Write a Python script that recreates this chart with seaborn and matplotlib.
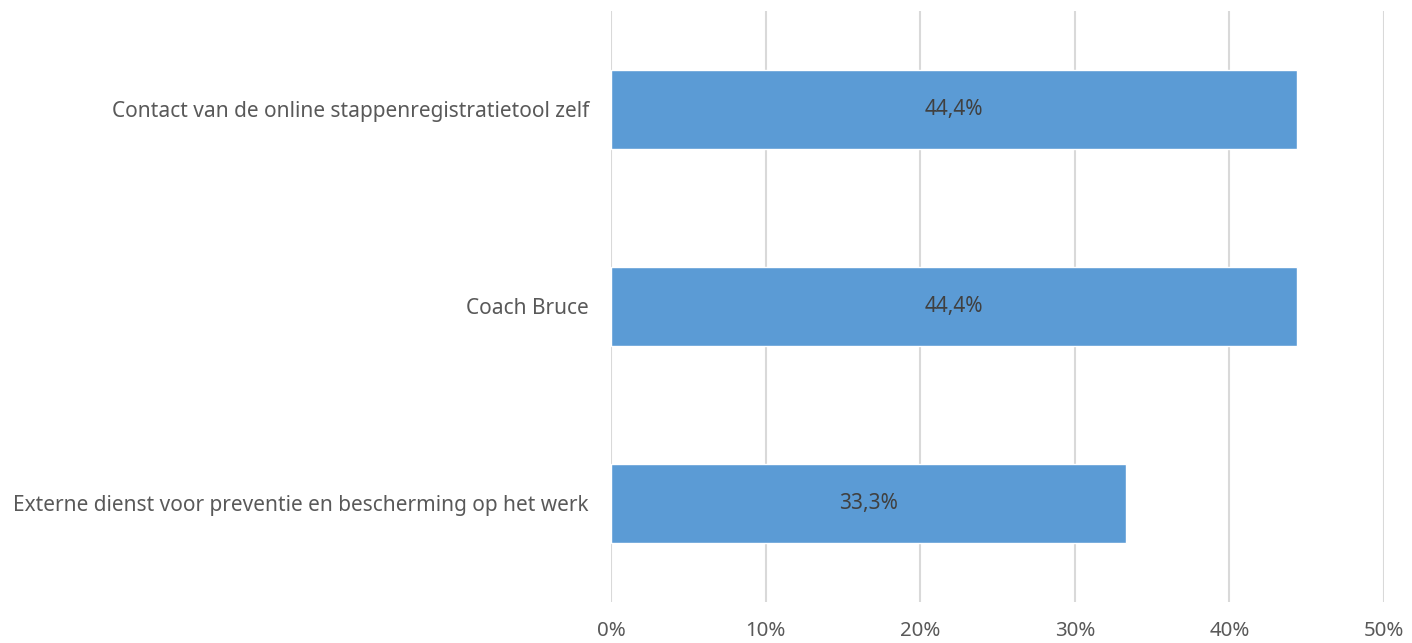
import matplotlib
matplotlib.use("Agg")
import matplotlib.pyplot as plt
import seaborn as sns
import pandas as pd
from matplotlib.ticker import FuncFormatter

categories = [
    "Contact van de online stappenregistratietool zelf",
    "Coach Bruce",
    "Externe dienst voor preventie en bescherming op het werk",
]
values = [44.4, 44.4, 33.3]
value_labels = ["44,4%", "44,4%", "33,3%"]
x_ticks = [0, 10, 20, 30, 40, 50]

sns.set_theme(style="white")
plt.rcParams["font.family"] = ["Noto Sans", "DejaVu Sans"]

df = pd.DataFrame({"cat": categories, "val": values})

fig = plt.figure(figsize=(14.12, 6.43), dpi=100)
ax = fig.add_axes([611 / 1412, 1 - 602 / 643, (1384 - 611) / 1412, (602 - 11) / 643])

sns.barplot(data=df, y="cat", x="val", orient="h", color="#5B9BD5",
            saturation=1, width=0.4, ax=ax, zorder=3)

ax.set_xlim(0, 50)
ax.set_xticks(x_ticks)
ax.xaxis.set_major_formatter(FuncFormatter(lambda v, p: f"{int(v)}%"))
ax.grid(axis="x", color="#D9D9D9", linewidth=1.5, zorder=0)
ax.grid(axis="y", visible=False)
for s in ax.spines.values():
    s.set_visible(False)
ax.set_xlabel("")
ax.set_ylabel("")
ax.tick_params(axis="x", length=0, pad=14, labelsize=14.7, labelcolor="#595959")
ax.tick_params(axis="y", length=0, pad=16, labelsize=15, labelcolor="#595959")

for i, (v, lab) in enumerate(zip(values, value_labels)):
    ax.text(v / 2, i, lab, ha="center", va="center", fontsize=15, color="#404040", zorder=4)

fig.savefig("out.png", dpi=100)
